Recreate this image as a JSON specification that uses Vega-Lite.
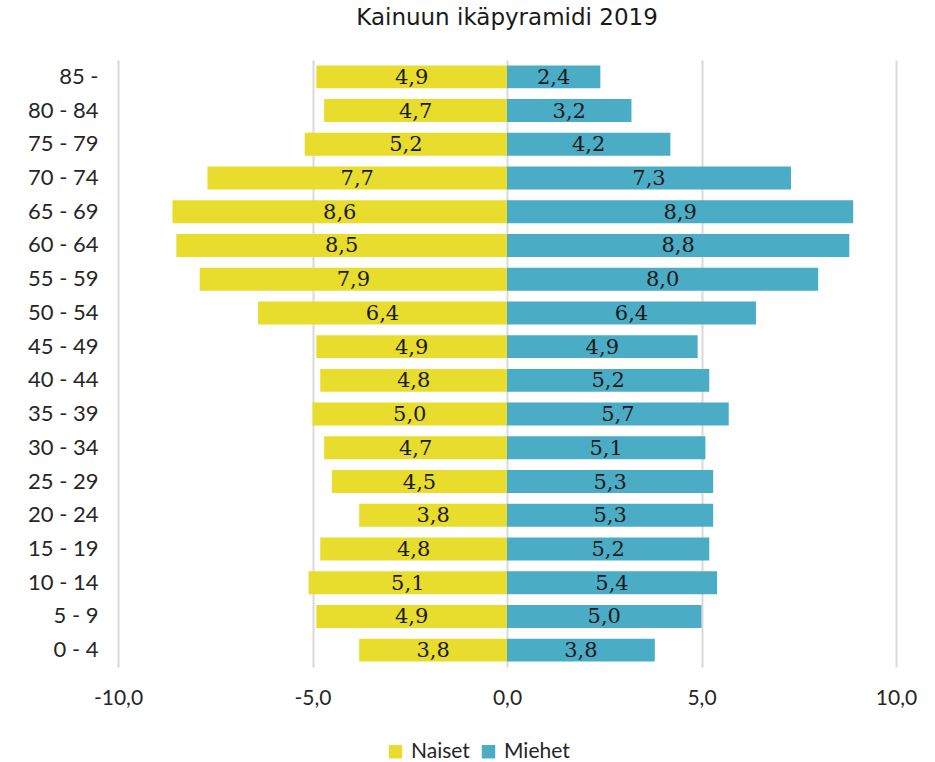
{
  "$schema": "https://vega.github.io/schema/vega-lite/v6.json",
  "width": 778,
  "height": 607,
  "autosize": {"type": "none"},
  "padding": {"left": 118, "top": 60, "right": 39, "bottom": 95},
  "title": {"text": "Kainuun ikäpyramidi 2019", "font": "DejaVu Sans", "fontSize": 23, "fontWeight": "normal", "color": "#1a1a1a", "anchor": "middle", "offset": 30},
  "config": {
    "locale": {"number": {"decimal": ",", "thousands": " ", "grouping": [3], "currency": ["", " €"], "minus": "-"}},
    "view": {"stroke": null},
    "font": "Lato"
  },
  "data": {"values": [
    {"ika": "85 -", "sukupuoli": "Naiset", "arvo": 4.9},
    {"ika": "80 - 84", "sukupuoli": "Naiset", "arvo": 4.7},
    {"ika": "75 - 79", "sukupuoli": "Naiset", "arvo": 5.2},
    {"ika": "70 - 74", "sukupuoli": "Naiset", "arvo": 7.7},
    {"ika": "65 - 69", "sukupuoli": "Naiset", "arvo": 8.6},
    {"ika": "60 - 64", "sukupuoli": "Naiset", "arvo": 8.5},
    {"ika": "55 - 59", "sukupuoli": "Naiset", "arvo": 7.9},
    {"ika": "50 - 54", "sukupuoli": "Naiset", "arvo": 6.4},
    {"ika": "45 - 49", "sukupuoli": "Naiset", "arvo": 4.9},
    {"ika": "40 - 44", "sukupuoli": "Naiset", "arvo": 4.8},
    {"ika": "35 - 39", "sukupuoli": "Naiset", "arvo": 5.0},
    {"ika": "30 - 34", "sukupuoli": "Naiset", "arvo": 4.7},
    {"ika": "25 - 29", "sukupuoli": "Naiset", "arvo": 4.5},
    {"ika": "20 - 24", "sukupuoli": "Naiset", "arvo": 3.8},
    {"ika": "15 - 19", "sukupuoli": "Naiset", "arvo": 4.8},
    {"ika": "10 - 14", "sukupuoli": "Naiset", "arvo": 5.1},
    {"ika": "5 - 9", "sukupuoli": "Naiset", "arvo": 4.9},
    {"ika": "0 - 4", "sukupuoli": "Naiset", "arvo": 3.8},
    {"ika": "85 -", "sukupuoli": "Miehet", "arvo": 2.4},
    {"ika": "80 - 84", "sukupuoli": "Miehet", "arvo": 3.2},
    {"ika": "75 - 79", "sukupuoli": "Miehet", "arvo": 4.2},
    {"ika": "70 - 74", "sukupuoli": "Miehet", "arvo": 7.3},
    {"ika": "65 - 69", "sukupuoli": "Miehet", "arvo": 8.9},
    {"ika": "60 - 64", "sukupuoli": "Miehet", "arvo": 8.8},
    {"ika": "55 - 59", "sukupuoli": "Miehet", "arvo": 8.0},
    {"ika": "50 - 54", "sukupuoli": "Miehet", "arvo": 6.4},
    {"ika": "45 - 49", "sukupuoli": "Miehet", "arvo": 4.9},
    {"ika": "40 - 44", "sukupuoli": "Miehet", "arvo": 5.2},
    {"ika": "35 - 39", "sukupuoli": "Miehet", "arvo": 5.7},
    {"ika": "30 - 34", "sukupuoli": "Miehet", "arvo": 5.1},
    {"ika": "25 - 29", "sukupuoli": "Miehet", "arvo": 5.3},
    {"ika": "20 - 24", "sukupuoli": "Miehet", "arvo": 5.3},
    {"ika": "15 - 19", "sukupuoli": "Miehet", "arvo": 5.2},
    {"ika": "10 - 14", "sukupuoli": "Miehet", "arvo": 5.4},
    {"ika": "5 - 9", "sukupuoli": "Miehet", "arvo": 5.0},
    {"ika": "0 - 4", "sukupuoli": "Miehet", "arvo": 3.8}
  ]},
  "transform": [
    {"calculate": "datum.sukupuoli === 'Naiset' ? -datum.arvo : datum.arvo", "as": "suunta"},
    {"calculate": "datum.suunta / 2", "as": "keski"}
  ],
  "encoding": {
    "y": {
      "field": "ika", "type": "nominal", "sort": null,
      "scale": {"paddingInner": 0.32, "paddingOuter": 0.16},
      "axis": {"title": null, "domain": false, "ticks": false, "grid": false, "labelFont": "Lato", "labelFontSize": 22, "labelColor": "#262626", "labelPadding": 20}
    }
  },
  "layer": [
    {
      "mark": {"type": "bar"},
      "encoding": {
        "x": {
          "field": "suunta", "type": "quantitative",
          "scale": {"domain": [-10, 10], "nice": false},
          "axis": {"title": null, "values": [-10, -5, 0, 5, 10], "format": ".1f", "domain": false, "ticks": false, "grid": true, "gridColor": "#d9d9d9", "gridWidth": 2, "labelFont": "Lato", "labelFontSize": 21, "labelColor": "#262626", "labelPadding": 20, "labelFlush": false, "labelOverlap": false}
        },
        "color": {
          "field": "sukupuoli", "type": "nominal",
          "scale": {"domain": ["Naiset", "Miehet"], "range": ["#e8dc2c", "#4bacc6"]},
          "legend": {"title": null, "orient": "none", "legendX": 267, "legendY": 681, "direction": "horizontal", "symbolType": "square", "symbolSize": 180, "symbolStrokeWidth": 0, "labelFont": "Lato", "labelFontSize": 21, "labelColor": "#262626", "columnPadding": 8, "labelOffset": 5}
        }
      }
    },
    {
      "mark": {"type": "text", "font": "DejaVu Serif", "fontSize": 21, "color": "#1a1a1a", "baseline": "middle", "align": "center", "dy": 1},
      "encoding": {
        "x": {"field": "keski", "type": "quantitative"},
        "text": {"field": "arvo", "type": "quantitative", "format": ".1f"}
      }
    }
  ]
}
